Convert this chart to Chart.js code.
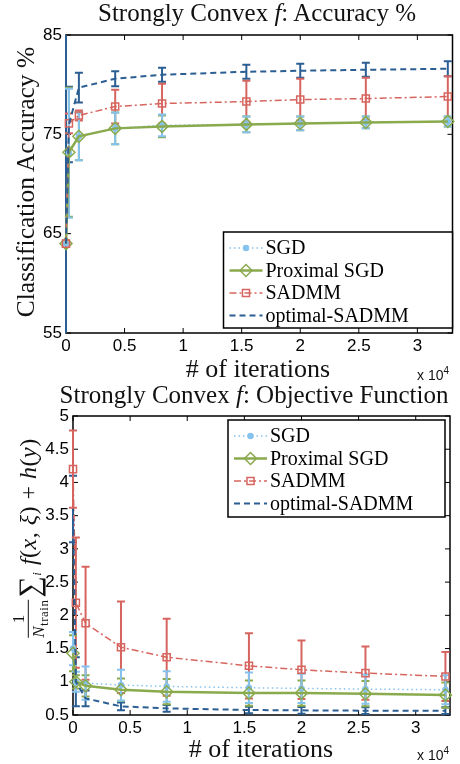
<!DOCTYPE html>
<html>
<head>
<meta charset="utf-8">
<script src="https://cdn.jsdelivr.net/npm/chart.js@4.4.1/dist/chart.umd.min.js"></script>
<style>
  body { margin: 0; width: 460px; height: 764px; background: #fff; position: relative; overflow: hidden; }
  canvas { position: absolute; left: 0; }
  #accCanvas { top: 0; }
  #objCanvas { top: 382px; }
  .lbl { position: absolute; white-space: nowrap; color: #111; font-family: "Liberation Serif", "DejaVu Serif", serif; line-height: 1; }
  .title { font-size: 25px; transform: translateX(-50%); }
  .xlab { font-size: 26px; transform: translateX(-50%); }
  .exp { position: absolute; font-family: "Liberation Sans", Arial, sans-serif; font-size: 14px; line-height: 1; color: #111; }
  .exp sup { font-size: 10px; }
  .ylab { font-size: 25.5px; transform: translate(-50%, -50%) rotate(-90deg); }
  .ylab2 { font-size: 24px; letter-spacing: 0.5px; transform: translate(-50%, -50%) rotate(-90deg); }
  .frac { display: inline-block; vertical-align: middle; text-align: center; font-size: 17px; margin-right: 2px; }
  .frac .num { display: block; border-bottom: 1.5px solid #111; padding: 0 1px 1px; }
  .frac .den { display: block; padding-top: 1px; }
  .frac sub { font-size: 15px; }
  .sum { font-size: 30px; vertical-align: -3px; }
  .ylab2 sub { font-size: 13px; }
</style>
</head>
<body>
<canvas id="accCanvas" width="460" height="382"></canvas>
<canvas id="objCanvas" width="460" height="382"></canvas>

<div class="lbl title" style="left:257px; top:0px;">Strongly Convex <i>f</i>: Accuracy %</div>
<div class="lbl ylab" style="left:26px; top:182px;">Classification Accuracy %</div>
<div class="lbl xlab" style="left:258px; top:356px;"># of iterations</div>
<div class="exp" style="left:417px; top:366px;">x 10<sup>4</sup></div>

<div class="lbl title" style="left:254px; top:382px;">Strongly Convex <i>f</i>: Objective Function</div>
<div class="lbl ylab2" style="left:30px; top:538px;"><span class="frac"><span class="num">1</span><span class="den"><i>N</i><sub>train</sub></span></span><span class="sum">&sum;</span><sub><i>i</i></sub> <i>f</i>(<i>x</i>, <i>&xi;</i>) + <i>h</i>(<i>y</i>)</div>
<div class="lbl xlab" style="left:261px; top:736px;"># of iterations</div>
<div class="exp" style="left:417px; top:746px;">x 10<sup>4</sup></div>

<script>
// x positions shared by both panels
const iterations = [0, 250, 1100, 4200, 8200, 15400, 20000, 25600, 32600];
const xTickValues = [0, 5000, 10000, 15000, 20000, 25000, 30000];
const seriesNames = ['SGD', 'Proximal SGD', 'SADMM', 'optimal-SADMM'];

// accuracy panel (%)
const accTicks = [55, 65, 75, 85];
const accSGD = [64, 73.1, 74.8, 75.6, 75.9, 76.0, 76.1, 76.2, 76.3];
const accSGDErr = [0, 6.5, 2.4, 1.6, 1.1, 0.8, 0.7, 0.6, 0.5];
const accProx = [64, 73.2, 74.8, 75.6, 75.8, 76.0, 76.1, 76.2, 76.3];
const accProxErr = [0, 6.5, 2.4, 1.6, 1.1, 0.8, 0.7, 0.6, 0.5];
const accSadmm = [64, 76.1, 76.9, 77.8, 78.1, 78.3, 78.5, 78.6, 78.8];
const accSadmmErr = [0, 1.0, 0.5, 1.7, 2.0, 2.1, 2.1, 2.1, 2.05];
const accOpt = [64, 76.0, 79.7, 80.6, 81.0, 81.3, 81.4, 81.5, 81.6];
const accOptErr = [25, 3.8, 1.5, 0.75, 0.7, 0.7, 0.7, 0.7, 0.75];

// objective panel
const objTicks = [0.5, 1, 1.5, 2, 2.5, 3, 3.5, 4, 4.5, 5];
const objSGD = [1.5, 1.0, 0.98, 0.95, 0.93, 0.91, 0.90, 0.89, 0.88];
const objSGDErr = [0.25, 0.15, 0.25, 0.23, 0.23, 0.23, 0.22, 0.22, 0.22];
const objProx = [1.43, 1.0, 0.94, 0.88, 0.85, 0.83, 0.83, 0.82, 0.80];
const objProxErr = [0.27, 0.1, 0.16, 0.17, 0.19, 0.19, 0.19, 0.19, 0.19];
const objSadmm = [4.2, 2.19, 1.88, 1.52, 1.37, 1.24, 1.18, 1.13, 1.08];
const objSadmmErr = [0.58, 0.98, 0.85, 0.69, 0.58, 0.49, 0.44, 0.40, 0.37];
const objOpt = [3.6, 1.0, 0.75, 0.63, 0.60, 0.575, 0.57, 0.565, 0.565];
const objOptErr = [0.5, 0.37, 0.12, 0.06, 0.05, 0.05, 0.05, 0.05, 0.05];

const styles = [
  { color: '#86c2ee', dash: [1.5, 3], width: 1.5, point: 'circle', radius: 2.5, fill: true },
  { color: '#8aaa4e', dash: [], width: 2.5, point: 'rectRot', radius: 6, fill: false },
  { color: '#d6655f', dash: [7, 3, 2, 3], width: 1.5, point: 'rect', radius: 5, fill: false },
  { color: '#2b5e93', dash: [6, 4], width: 2, point: 'circle', radius: 0, fill: false }
];

// vertical error bars from dataset.errors, using the chart scales
const errorBars = {
  id: 'errorBars',
  beforeDatasetsDraw(chart) {
    const ctx = chart.ctx, a = chart.chartArea, ys = chart.scales.y;
    ctx.save();
    ctx.beginPath();
    ctx.rect(a.left - 10, a.top, a.right - a.left + 20, a.bottom - a.top);
    ctx.clip();
    for (let d = chart.data.datasets.length - 1; d >= 0; d--) {
      const ds = chart.data.datasets[d];
      const meta = chart.getDatasetMeta(d);
      ctx.strokeStyle = ds.borderColor;
      ctx.lineWidth = 2;
      ctx.setLineDash([]);
      ds.data.forEach((p, i) => {
        const e = ds.errors[i];
        if (!e) return;
        const x = meta.data[i].x;
        const hi = ys.getPixelForValue(p.y + e), lo = ys.getPixelForValue(p.y - e);
        ctx.beginPath();
        ctx.moveTo(x, hi); ctx.lineTo(x, lo);
        ctx.moveTo(x - 4, hi); ctx.lineTo(x + 4, hi);
        ctx.moveTo(x - 4, lo); ctx.lineTo(x + 4, lo);
        ctx.stroke();
      });
    }
    ctx.restore();
  }
};

// box round the plot with inward ticks on all four sides
const frameTicks = {
  id: 'frameTicks',
  beforeDatasetsDraw(chart) {
    const ctx = chart.ctx, a = chart.chartArea;
    ctx.save();
    ctx.strokeStyle = '#000';
    ctx.lineWidth = 1.5;
    ctx.strokeRect(a.left, a.top, a.right - a.left, a.bottom - a.top);
    ctx.lineWidth = 1;
    ctx.beginPath();
    chart.scales.x.ticks.forEach(t => {
      const x = chart.scales.x.getPixelForValue(t.value);
      ctx.moveTo(x, a.bottom); ctx.lineTo(x, a.bottom - 5);
      ctx.moveTo(x, a.top); ctx.lineTo(x, a.top + 5);
    });
    chart.scales.y.ticks.forEach(t => {
      const y = chart.scales.y.getPixelForValue(t.value);
      ctx.moveTo(a.left, y); ctx.lineTo(a.left + 5, y);
      ctx.moveTo(a.right, y); ctx.lineTo(a.right - 5, y);
    });
    ctx.stroke();
    ctx.restore();
  }
};

// legend drawn inside the plot area
const boxLegend = {
  id: 'boxLegend',
  afterDatasetsDraw(chart, args, opts) {
    const ctx = chart.ctx, a = chart.chartArea;
    const left = a.right - opts.right - opts.width;
    const top = opts.corner === 'top' ? a.top + opts.gap : a.bottom - opts.gap - opts.height;
    ctx.save();
    ctx.fillStyle = '#fff';
    ctx.fillRect(left, top, opts.width, opts.height);
    ctx.strokeStyle = '#000';
    ctx.lineWidth = 1.5;
    ctx.strokeRect(left, top, opts.width, opts.height);
    ctx.font = '20px "Liberation Serif"';
    ctx.textBaseline = 'middle';
    chart.data.datasets.forEach((ds, i) => {
      const y = top + 16 + i * 22.5;
      const x0 = left + 6, x1 = x0 + 33;
      ctx.strokeStyle = ds.borderColor;
      ctx.lineWidth = ds.borderWidth;
      ctx.setLineDash(ds.borderDash);
      ctx.beginPath(); ctx.moveTo(x0, y); ctx.lineTo(x1, y); ctx.stroke();
      ctx.setLineDash([]);
      if (ds.pointRadius > 0) {
        ctx.fillStyle = ds.pointBackgroundColor;
        ctx.strokeStyle = ds.pointBorderColor;
        ctx.lineWidth = ds.pointBorderWidth;
        Chart.helpers.drawPoint(ctx, { pointStyle: ds.pointStyle, radius: ds.pointRadius, borderWidth: ds.pointBorderWidth }, (x0 + x1) / 2, y);
      }
      ctx.fillStyle = '#000';
      ctx.fillText(ds.label, x1 + 3, y + 1);
    });
    ctx.restore();
  }
};

function makePanel(canvasId, values, errors, yMin, yMax, yTicks, yWidth, pad, legendOpts) {
  const datasets = seriesNames.map((name, k) => ({
    label: name,
    data: iterations.map((x, i) => ({ x: x, y: values[k][i] })),
    errors: errors[k],
    borderColor: styles[k].color,
    borderWidth: styles[k].width,
    borderDash: styles[k].dash,
    pointStyle: styles[k].point,
    pointRadius: styles[k].radius,
    pointBorderColor: styles[k].color,
    pointBackgroundColor: styles[k].fill ? styles[k].color : 'rgba(0,0,0,0)',
    pointBorderWidth: 1.5,
    tension: 0,
    fill: false,
    clip: false,
    order: 3 - k
  }));
  return new Chart(document.getElementById(canvasId), {
    type: 'line',
    data: { datasets: datasets },
    options: {
      responsive: false,
      animation: false,
      devicePixelRatio: 1,
      layout: { padding: pad },
      scales: {
        x: {
          type: 'linear',
          min: 0,
          max: 33000,
          afterBuildTicks: s => { s.ticks = xTickValues.map(v => ({ value: v })); },
          afterFit: s => { s.height = 49; },
          grid: { display: false, drawTicks: false },
          border: { display: false },
          ticks: {
            callback: v => String(v / 1e4),
            color: '#000',
            font: { family: '"Liberation Sans", Arial, sans-serif', size: 17 },
            padding: 3,
            maxRotation: 0,
            autoSkip: false
          }
        },
        y: {
          min: yMin,
          max: yMax,
          afterBuildTicks: s => { s.ticks = yTicks.map(v => ({ value: v })); },
          afterFit: s => { s.width = yWidth; },
          grid: { display: false, drawTicks: false },
          border: { display: false },
          ticks: {
            callback: v => String(v),
            color: '#000',
            font: { family: '"Liberation Sans", Arial, sans-serif', size: 17 },
            padding: 4,
            autoSkip: false
          }
        }
      },
      plugins: {
        legend: { display: false },
        tooltip: { enabled: false },
        boxLegend: legendOpts
      }
    },
    plugins: [frameTicks, errorBars, boxLegend]
  });
}

makePanel('accCanvas',
  [accSGD, accProx, accSadmm, accOpt],
  [accSGDErr, accProxErr, accSadmmErr, accOptErr],
  55, 85, accTicks, 66,
  { left: 0, right: 5, top: 35, bottom: 0 },
  { corner: 'bottom', right: 0, gap: 5, width: 229, height: 96 });

makePanel('objCanvas',
  [objSGD, objProx, objSadmm, objOpt],
  [objSGDErr, objProxErr, objSadmmErr, objOptErr],
  0.5, 5, objTicks, 73,
  { left: 0, right: 10, top: 34, bottom: 0 },
  { corner: 'top', right: 5, gap: 4, width: 217, height: 97 });
</script>
</body>
</html>
